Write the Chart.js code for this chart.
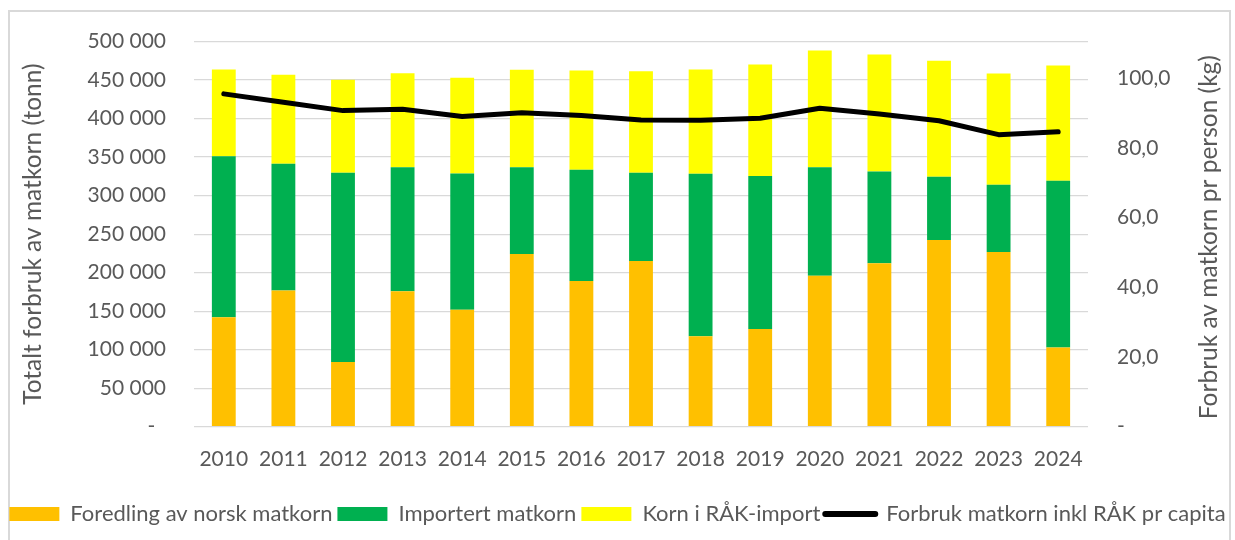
<!DOCTYPE html>
<html>
<head>
<meta charset="utf-8">
<script src="https://cdn.jsdelivr.net/npm/chart.js@4/dist/chart.umd.min.js"></script>
<style>
  html, body { margin: 0; padding: 0; background: #ffffff; }
  #wrap { position: relative; width: 1235px; height: 540px; overflow: hidden; }
  #frame { position: absolute; left: 8px; top: 10px; width: 1223px; height: 540px; border: 2px solid #d9d9d9; box-sizing: border-box; }
  #c { position: absolute; left: 0; top: 0; }
</style>
</head>
<body>
<div id="wrap">
  <div id="frame"></div>
  <canvas id="c" width="1235" height="540"></canvas>
</div>
<script>
// ---- data ----
const categories = ['2010','2011','2012','2013','2014','2015','2016','2017','2018','2019','2020','2021','2022','2023','2024'];
const foredlingNorsk = [142200, 176800, 84000, 175800, 151800, 224200, 189300, 215200, 117300, 126700, 196100, 212100, 242300, 226800, 102700];
const importertMatkorn = [209100, 164600, 245700, 160900, 177100, 112500, 144300, 114500, 211100, 198700, 140600, 119400, 82200, 87400, 216700];
const kornRaakImport = [112500, 115600, 120800, 122300, 124100, 126700, 128900, 131900, 135400, 144900, 151700, 151700, 150500, 144400, 149600];
const forbrukPerCapita = [95.5, 93.1, 90.7, 91.1, 89.0, 90.1, 89.3, 88.0, 87.9, 88.5, 91.4, 89.7, 87.8, 83.8, 84.6];

const seriesNames = ['Foredling av norsk matkorn', 'Importert matkorn', 'Korn i RÅK-import', 'Forbruk matkorn inkl RÅK pr capita'];
const leftTitle = 'Totalt forbruk av matkorn (tonn)';
const rightTitle = 'Forbruk av matkorn pr person (kg)';

const FONT = 'Lato';
const TEXT = '#595959';

function fmtThousands(v) {
  if (v === 0) return '-  ';
  return String(v).replace(/\B(?=(\d{3})+(?!\d))/g, ' ');
}
function fmtKg(v) {
  if (v === 0) return '-';
  return v.toFixed(1).replace('.', ',');
}

const rightTitlePlugin = {
  id: 'rightTitle',
  afterDraw(chart) {
    const ctx = chart.ctx;
    const a = chart.chartArea;
    ctx.save();
    ctx.translate(1209, (a.top + a.bottom) / 2 + 3);
    ctx.rotate(-Math.PI / 2);
    ctx.font = '24.5px ' + FONT;
    ctx.fillStyle = TEXT;
    ctx.textAlign = 'center';
    ctx.textBaseline = 'middle';
    ctx.fillText(rightTitle, 0, 0);
    ctx.restore();
  }
};

new Chart(document.getElementById('c'), {
  data: {
    labels: categories,
    datasets: [
      { type: 'bar', label: seriesNames[0], data: foredlingNorsk, backgroundColor: '#FFC000', stack: 's', yAxisID: 'y', order: 1, pointStyle: 'rect' },
      { type: 'bar', label: seriesNames[1], data: importertMatkorn, backgroundColor: '#00B050', stack: 's', yAxisID: 'y', order: 1, pointStyle: 'rect' },
      { type: 'bar', label: seriesNames[2], data: kornRaakImport, backgroundColor: '#FFFF00', stack: 's', yAxisID: 'y', order: 1, pointStyle: 'rect' },
      { type: 'line', label: seriesNames[3], data: forbrukPerCapita, borderColor: '#000000', backgroundColor: '#000000', borderWidth: 5,
        pointRadius: 0, tension: 0, yAxisID: 'y1', order: 0, borderJoinStyle: 'round', borderCapStyle: 'round' }
    ]
  },
  options: {
    responsive: false,
    animation: false,
    layout: { padding: { top: 40, bottom: 5, left: 0, right: 0 } },
    datasets: { bar: { barPercentage: 0.4, categoryPercentage: 1.0 } },
    plugins: {
      tooltip: { enabled: false },
      legend: {
        position: 'bottom',
        labels: {
          color: TEXT,
          font: { family: FONT, size: 22 },
          usePointStyle: true,
          pointStyleWidth: 50,
          boxWidth: 50,
          boxHeight: 14,
          padding: 5,
          generateLabels(chart) {
            const items = Chart.defaults.plugins.legend.labels.generateLabels(chart);
            items.forEach(it => {
              const ds = chart.data.datasets[it.datasetIndex];
              if (ds.type === 'line') {
                it.pointStyle = 'line';
                it.lineWidth = 6;
                it.strokeStyle = '#000000';
                it.lineCap = 'round';
              } else {
                it.pointStyle = 'rect';
                it.lineWidth = 0;
              }
            });
            return items.sort((a, b) => a.datasetIndex - b.datasetIndex);
          }
        }
      }
    },
    scales: {
      x: {
        stacked: true,
        grid: { display: false, drawTicks: false },
        border: { display: false },
        ticks: { color: TEXT, font: { family: FONT, size: 21 }, padding: 20, maxRotation: 0, autoSkip: false },
        afterFit(scale) { scale.height = 71.3; }
      },
      y: {
        stacked: true,
        position: 'left',
        min: 0, max: 500000,
        grid: { color: '#d9d9d9', lineWidth: 1.3, drawTicks: false },
        border: { display: false },
        ticks: { stepSize: 50000, color: TEXT, font: { family: FONT, size: 21 }, padding: 28, callback: v => fmtThousands(v), includeBounds: false },
        title: { display: true, text: leftTitle, color: TEXT, font: { family: FONT, size: 24.5 }, padding: { top: 18, bottom: 0 } },
        afterFit(scale) { scale.width = 194; }
      },
      y1: {
        position: 'right',
        min: 0, max: 110.5,
        grid: { display: false, drawTicks: false },
        border: { display: false },
        ticks: { stepSize: 20, color: TEXT, font: { family: FONT, size: 21 }, padding: 29, callback: v => fmtKg(v), includeBounds: false },
        afterFit(scale) { scale.width = 147; }
      }
    }
  },
  plugins: [rightTitlePlugin]
});
</script>
</body>
</html>
